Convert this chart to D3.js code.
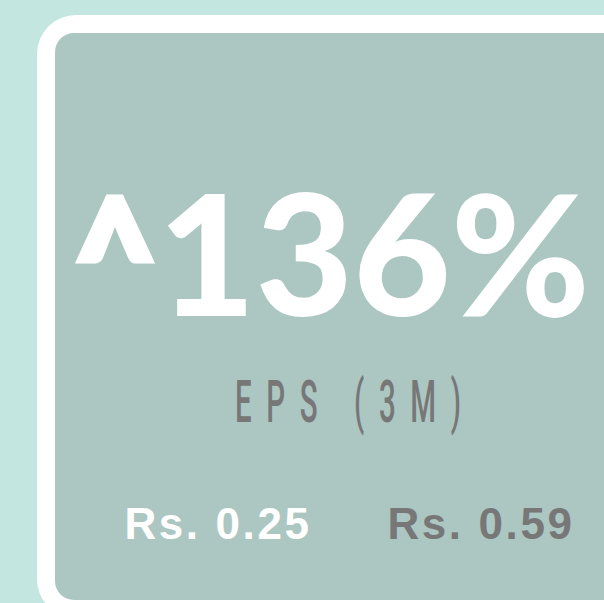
<!DOCTYPE html>
<html>
<head>
<meta charset="utf-8">
<script src="https://cdn.jsdelivr.net/npm/d3@7"></script>
<style>
  html, body { margin: 0; padding: 0; background: #c4e6e1; overflow: hidden; }
</style>
</head>
<body>
<svg id="card"></svg>
<script>
// KPI card data
const metric = "EPS (3M)";
const periods = ["before", "after"];
const values = [0.25, 0.59];
const valueColors = ["#ffffff", "#777777"];

const W = 604, H = 603;
const svg = d3.select("#card").attr("width", W).attr("height", H);

svg.append("rect").attr("width", W).attr("height", H).attr("fill", "#c4e6e1");

// white frame + panel
svg.append("rect").attr("x", 37).attr("y", 15).attr("width", 640).attr("height", 603)
  .attr("rx", 39).attr("fill", "#ffffff");
svg.append("rect").attr("x", 55).attr("y", 33).attr("width", 604).attr("height", 567)
  .attr("rx", 19).attr("fill", "#acc6c2");

// headline change
const pct = Math.round((values[1] - values[0]) / values[0] * 100);
const bigFont = "Lato, Inter, 'Noto Sans', sans-serif";

// caret drawn heavier with a stroke
svg.append("text")
  .attr("x", 74).attr("y", 314)
  .attr("font-family", bigFont).attr("font-weight", 900)
  .attr("font-size", 160)
  .attr("fill", "#ffffff").attr("stroke", "#ffffff").attr("stroke-width", 7)
  .attr("stroke-linejoin", "miter")
  .attr("textLength", 82).attr("lengthAdjust", "spacingAndGlyphs")
  .text("^");

svg.append("text")
  .attr("x", 158).attr("y", 316)
  .attr("font-family", bigFont).attr("font-weight", 900)
  .attr("font-size", 168)
  .attr("fill", "#ffffff")
  .attr("textLength", 432).attr("lengthAdjust", "spacingAndGlyphs")
  .text(pct + "%");

// metric label, condensed + tracked
const label = svg.append("text")
  .attr("font-family", "Roboto, 'Liberation Sans', sans-serif")
  .attr("font-weight", 500)
  .attr("font-size", 59)
  .attr("fill", "#777777")
  .text(metric);
const sx = 0.5, targetW = 226;
const w0 = label.node().getComputedTextLength();
const ls = (targetW / sx - w0) / (metric.length - 1);
label.attr("letter-spacing", ls)
  .attr("transform", `translate(235,422) scale(${sx},1)`);

// values
const x = d3.scalePoint().domain(periods).range([218, 481]);
svg.selectAll("text.val").data(values).join("text")
  .attr("class", "val")
  .attr("x", (d, i) => x(periods[i]))
  .attr("y", 539)
  .attr("text-anchor", "middle")
  .attr("font-family", "'Liberation Sans', Arial, sans-serif")
  .attr("font-weight", "bold")
  .attr("font-size", 44)
  .attr("letter-spacing", 2.6)
  .attr("fill", (d, i) => valueColors[i])
  .text(d => "Rs. " + d.toFixed(2));
</script>
</body>
</html>
